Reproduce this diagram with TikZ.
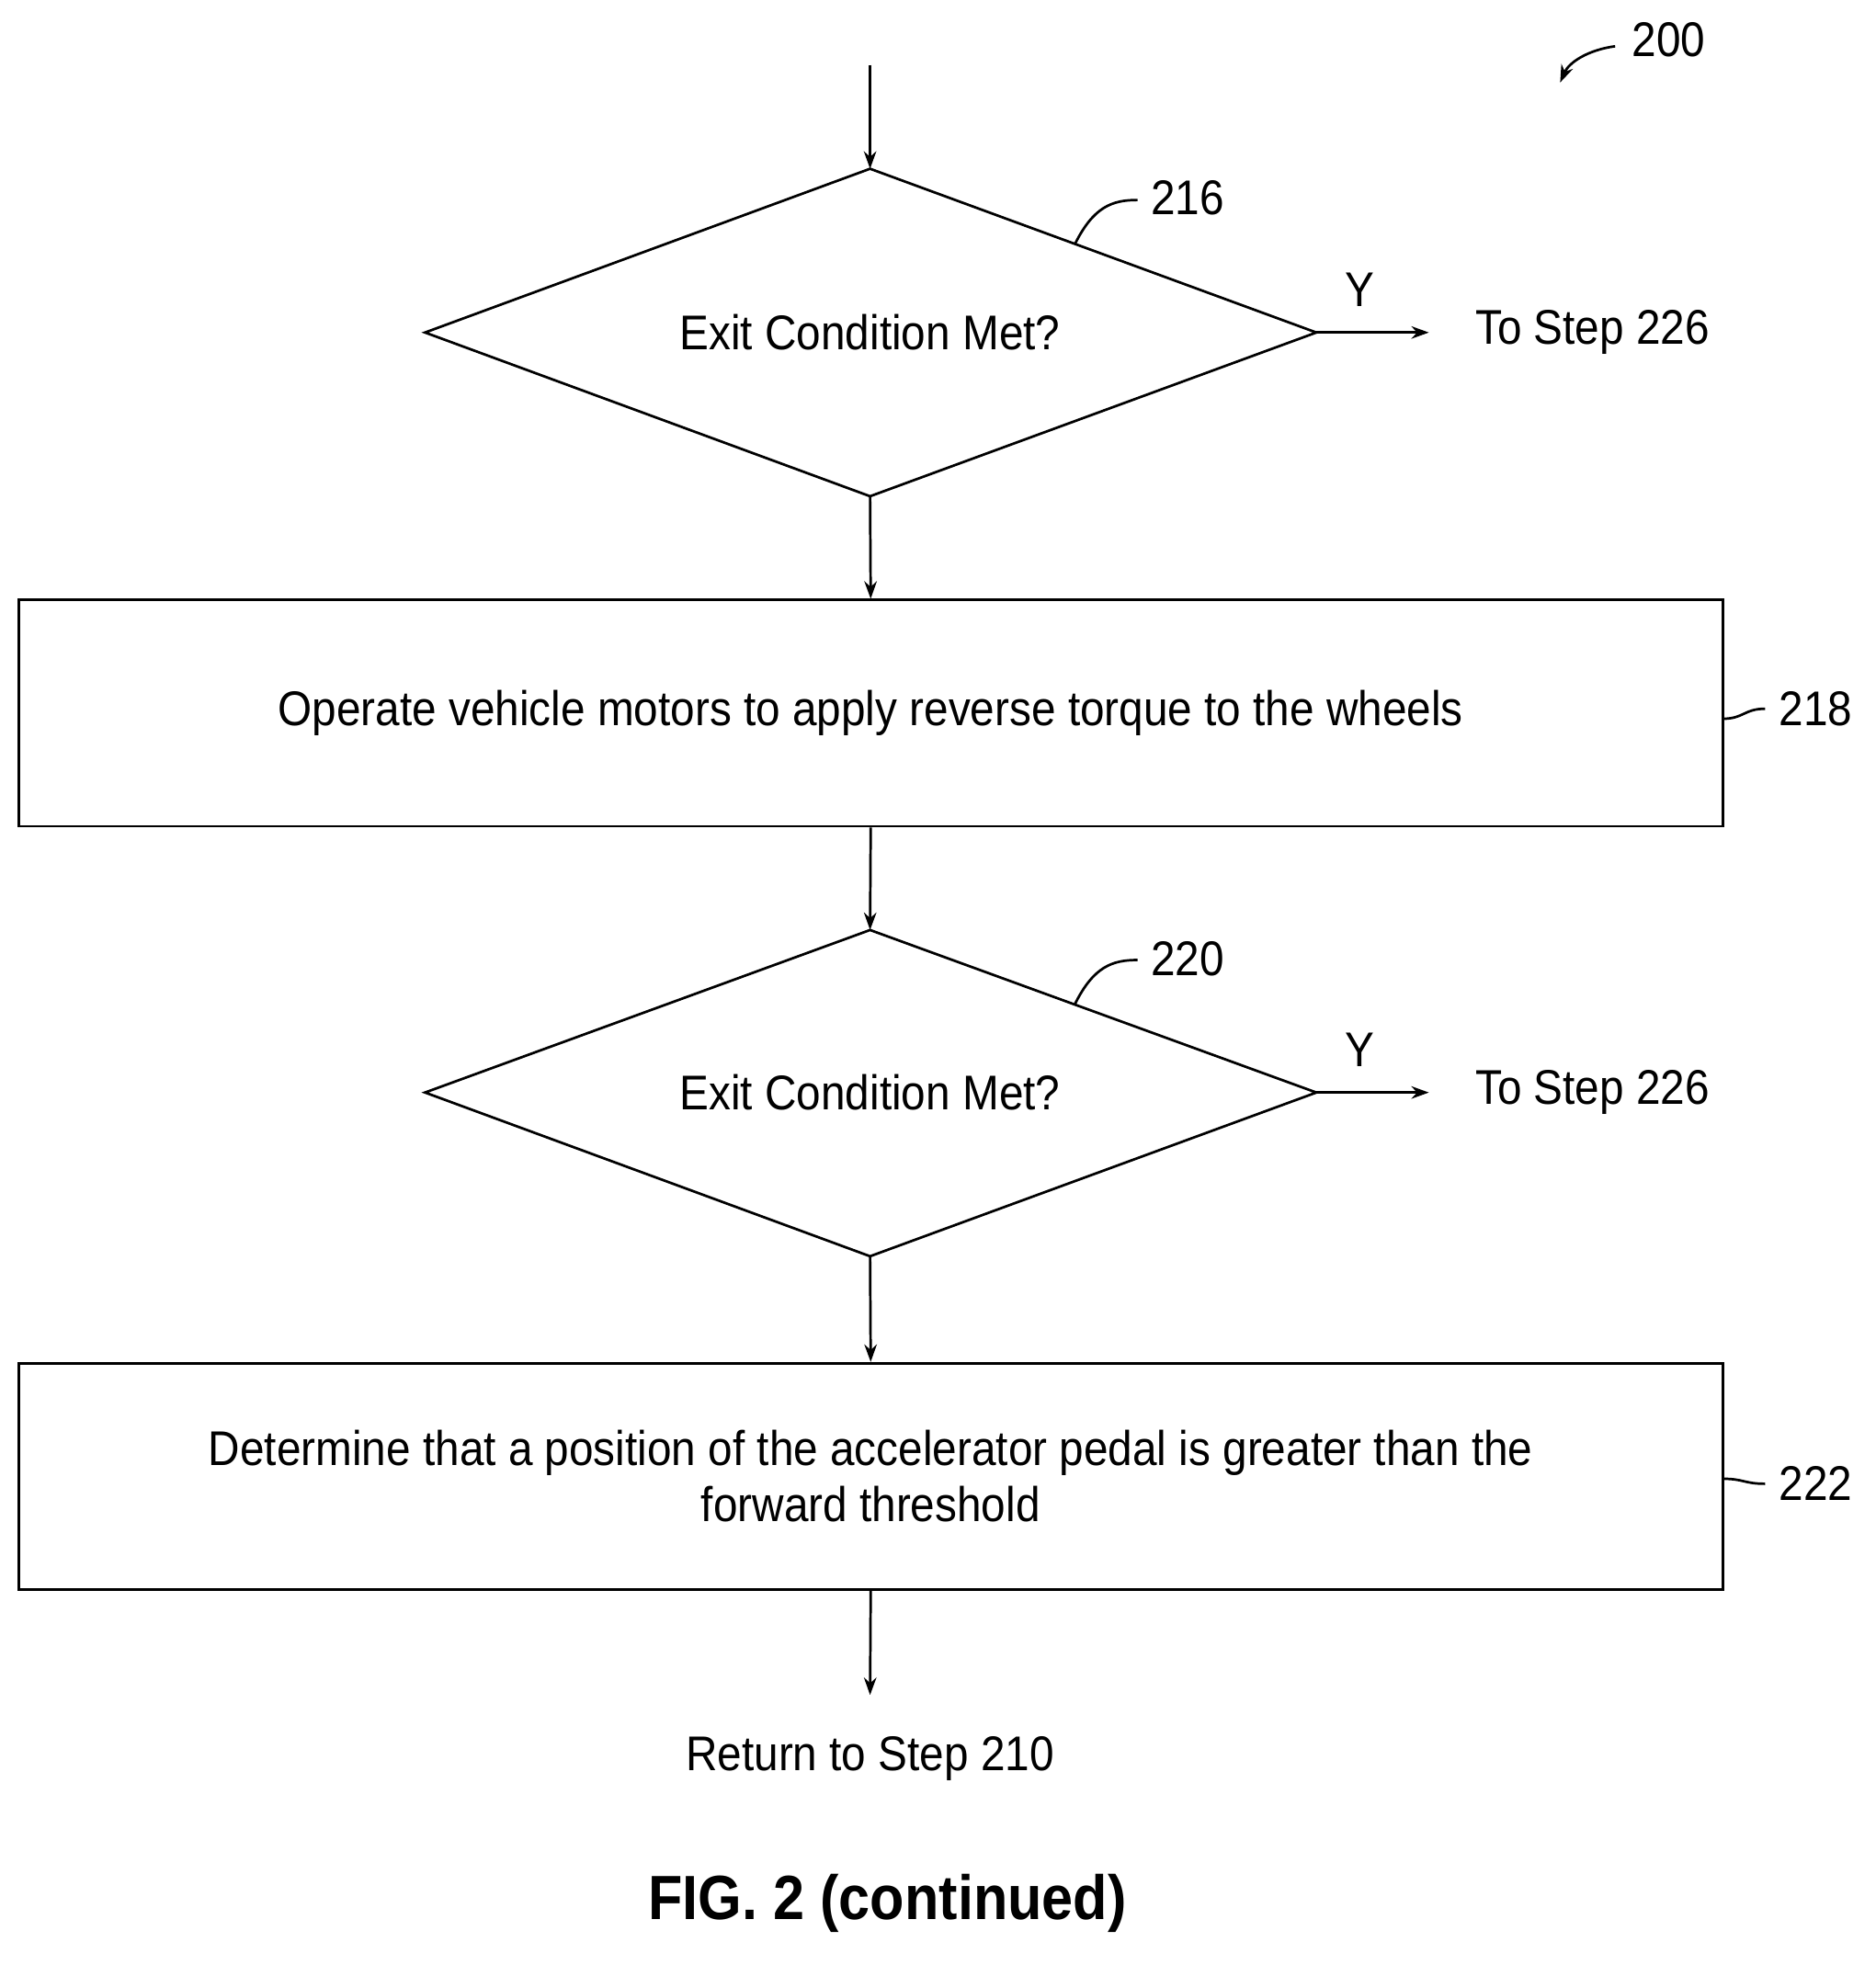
\documentclass[tikz,border=0pt]{standalone}
\usepackage{fontspec}
\setmainfont{Liberation Sans}[FakeStretch=0.9]
\usetikzlibrary{arrows.meta}
\begin{document}
\begin{tikzpicture}[x=1pt,y=-1pt,
  ln/.style={line width=2pt},
  arr/.style={ln,-{Stealth[length=14pt,width=10pt]}},
  txt/.style={font=\fontsize{39}{45}\selectfont,inner sep=0pt,align=center},
  lab/.style={font=\fontsize{39}{45}\selectfont,inner sep=0pt}]
\useasboundingbox (0,0) rectangle (1500,1572);
% diamond 216
\coordinate (s0) at (696,52);
\draw[ln] (696,135) coordinate (d1t) -- (1053,266) coordinate (d1r) -- (696,397) coordinate (d1b) -- (340,266) -- cycle;
\node[txt] (d1) at (696,266) {Exit Condition Met?};
\draw[arr] (s0) -- (d1t);
\node[lab] (l216) at (950,158) {216};
\draw[ln] (860,195) .. controls (875,165) and (890,160) .. (910,160);
\node[lab] (y1) at (1088,232) {Y};
\node[lab,anchor=west] (t1) at (1180,266) {To Step 226};
\draw[arr] (d1r) -- (1143,266);
% box 218
\node[ln,draw,minimum width=1363pt,minimum height=181pt,txt] (b1) at (696.5,570.5) {Operate vehicle motors to apply reverse torque to the wheels};
\draw[arr] (d1b) -- (b1.north);
\node[lab,anchor=west] (l218) at (1423,567) {218};
\draw[ln] (1378,575) .. controls (1395,575) and (1395,567) .. (1412,567);
% diamond 220
\draw[ln] (696,744) coordinate (d2t) -- (1053,874) coordinate (d2r) -- (696,1005) coordinate (d2b) -- (340,874) -- cycle;
\node[txt] (d2) at (696,874) {Exit Condition Met?};
\draw[arr] (b1.south) -- (d2t);
\node[lab] (l220) at (950,767) {220};
\draw[ln] (860,803) .. controls (875,773) and (890,768) .. (910,768);
\node[lab] (y2) at (1088,840) {Y};
\node[lab,anchor=west] (t2) at (1180,874) {To Step 226};
\draw[arr] (d2r) -- (1143,874);
% box 222
\node[ln,draw,minimum width=1363pt,minimum height=181pt,txt] (b2) at (696.5,1181) {Determine that a position of the accelerator pedal is greater than the\\forward threshold};
\draw[arr] (d2b) -- (b2.north);
\node[lab,anchor=west] (l222) at (1423,1187) {222};
\draw[ln] (1378,1183) .. controls (1395,1183) and (1395,1187) .. (1412,1187);
\node[txt] (ret) at (696,1407) {Return to Step 210};
\draw[arr] (b2.south) -- (696,1356);
% 200
\node[lab] (l200) at (1335,32) {200};
\draw[arr] (1292,37) .. controls (1270,40) and (1255,50) .. (1248,66);
\node[font=\fontsize{50}{58}\selectfont\bfseries,inner sep=0pt] (fig) at (710,1523) {FIG. 2 (continued)};
\end{tikzpicture}
\end{document}
